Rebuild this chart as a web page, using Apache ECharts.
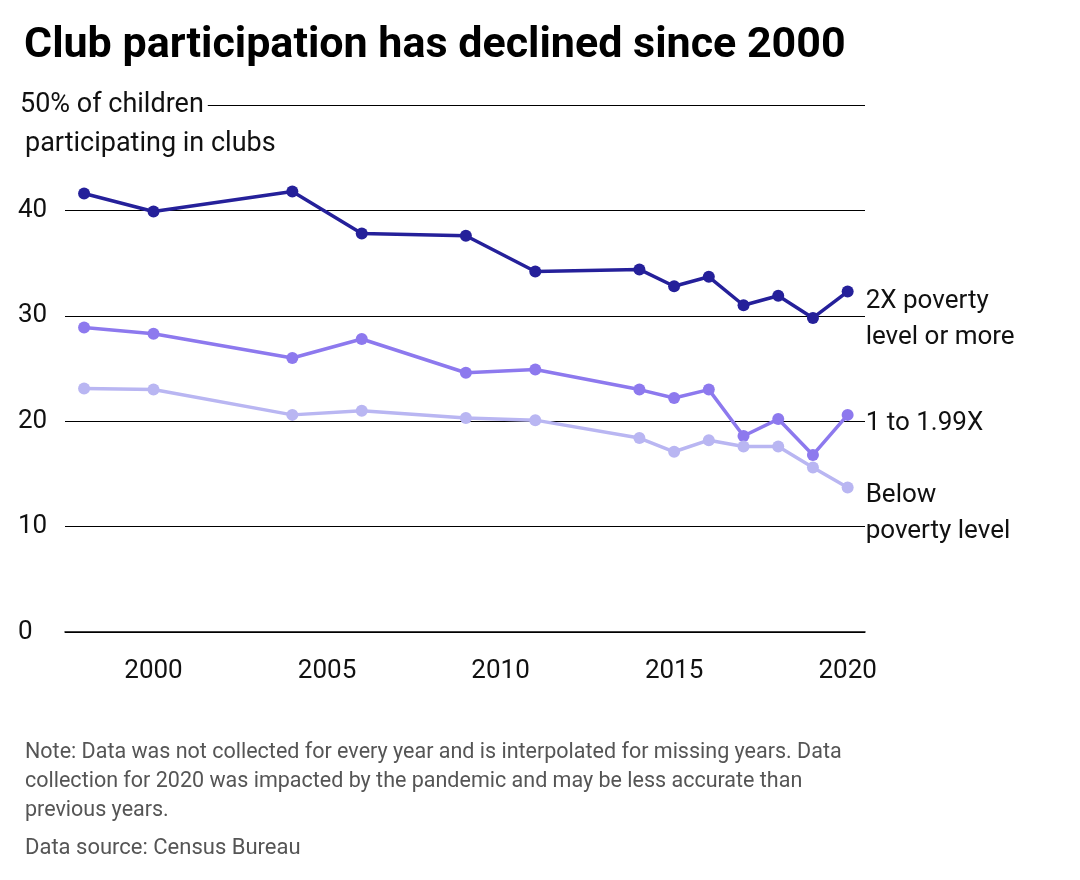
<!DOCTYPE html>
<html>
<head>
<meta charset="utf-8">
<script src="https://cdn.jsdelivr.net/npm/echarts@6/dist/echarts.min.js"></script>
<style>html,body{margin:0;background:#fff}#chart{width:1080px;height:880px}</style>
</head>
<body>
<div id="chart"></div>
<script>
var years = [1998, 2000, 2004, 2006, 2009, 2011, 2014, 2015, 2016, 2017, 2018, 2019, 2020];
var highIncome = [41.6, 39.9, 41.8, 37.8, 37.6, 34.2, 34.4, 32.8, 33.7, 31.0, 31.9, 29.8, 32.3];
var midIncome = [28.9, 28.3, 26.0, 27.8, 24.6, 24.9, 23.0, 22.2, 23.0, 18.6, 20.2, 16.8, 20.6];
var lowIncome = [23.1, 23.0, 20.6, 21.0, 20.3, 20.1, 18.4, 17.1, 18.2, 17.6, 17.6, 15.6, 13.7];
var xTicks = [2000, 2005, 2010, 2015, 2020];

var chart = echarts.init(document.getElementById('chart'));
var font = 'Roboto';

function pairs(vals) {
    return years.map(function (y, i) { return [y, vals[i]]; });
}
function line(name, vals, color, label, offset) {
    return {
        name: name,
        type: 'line',
        data: pairs(vals),
        symbol: 'circle',
        symbolSize: 12,
        lineStyle: { color: color, width: 3.5 },
        itemStyle: { color: color },
        endLabel: {
            show: true,
            formatter: label,
            color: '#111',
            fontFamily: font,
            fontSize: 26,
            lineHeight: 36,
            align: 'left',
            offset: offset
        }
    };
}

option = {
    animation: false,
    title: [{
        text: 'Club participation has declined since 2000',
        left: 19, top: 20,
        textStyle: { fontFamily: font, fontSize: 43, fontWeight: 'bold', color: '#000' }
    }, {
        text: 'participating in clubs',
        left: 20, top: 126,
        textStyle: { fontFamily: font, fontSize: 27, fontWeight: 'normal', color: '#111' }
    }, {
        text: 'Note: Data was not collected for every year and is interpolated for missing years. Data\ncollection for 2020 was impacted by the pandemic and may be less accurate than\nprevious years.',
        left: 20, top: 733,
        textStyle: { fontFamily: font, fontSize: 21.5, lineHeight: 29, fontWeight: 'normal', color: '#555' }
    }, {
        text: 'Data source: Census Bureau',
        left: 20, top: 832,
        textStyle: { fontFamily: font, fontSize: 22, fontWeight: 'normal', color: '#555' }
    }],
    grid: { left: 65, right: 215, top: 105, bottom: 248 },
    xAxis: {
        type: 'value',
        min: 1997.45, max: 2020.5,
        interval: 5,
        axisLine: { show: true, lineStyle: { color: '#000', width: 1.5 } },
        axisTick: { show: false },
        splitLine: { show: false },
        axisLabel: {
            fontFamily: font, fontSize: 26, color: '#111', margin: 26,
            customValues: xTicks,
            formatter: function (v) { return xTicks.indexOf(v) >= 0 ? String(v) : ''; }
        }
    },
    yAxis: {
        type: 'value',
        min: 0, max: 50, interval: 10,
        axisLine: { show: false },
        axisTick: { show: false },
        splitLine: { lineStyle: { color: '#000', width: 1.2 } },
        axisLabel: {
            fontFamily: font, fontSize: 26, color: '#111',
            align: 'left', margin: 47,
            formatter: function (v) { return v === 50 ? '{top|50% of children}' : String(v); },
            rich: {
                top: { fontFamily: font, fontSize: 27, color: '#111', backgroundColor: '#fff', padding: [0, 4, 0, 2] }
            }
        },
        z: 3
    },
    series: [
        line('2X poverty level or more', highIncome, '#25209a', '2X poverty\nlevel or more', [10, 28]),
        line('1 to 1.99X', midIncome, '#8d79ee', '1 to 1.99X', [10, 9]),
        line('Below poverty level', lowIncome, '#b9b6f2', 'Below\npoverty level', [10, 26])
    ]
};

chart.setOption(option);
</script>
</body>
</html>
